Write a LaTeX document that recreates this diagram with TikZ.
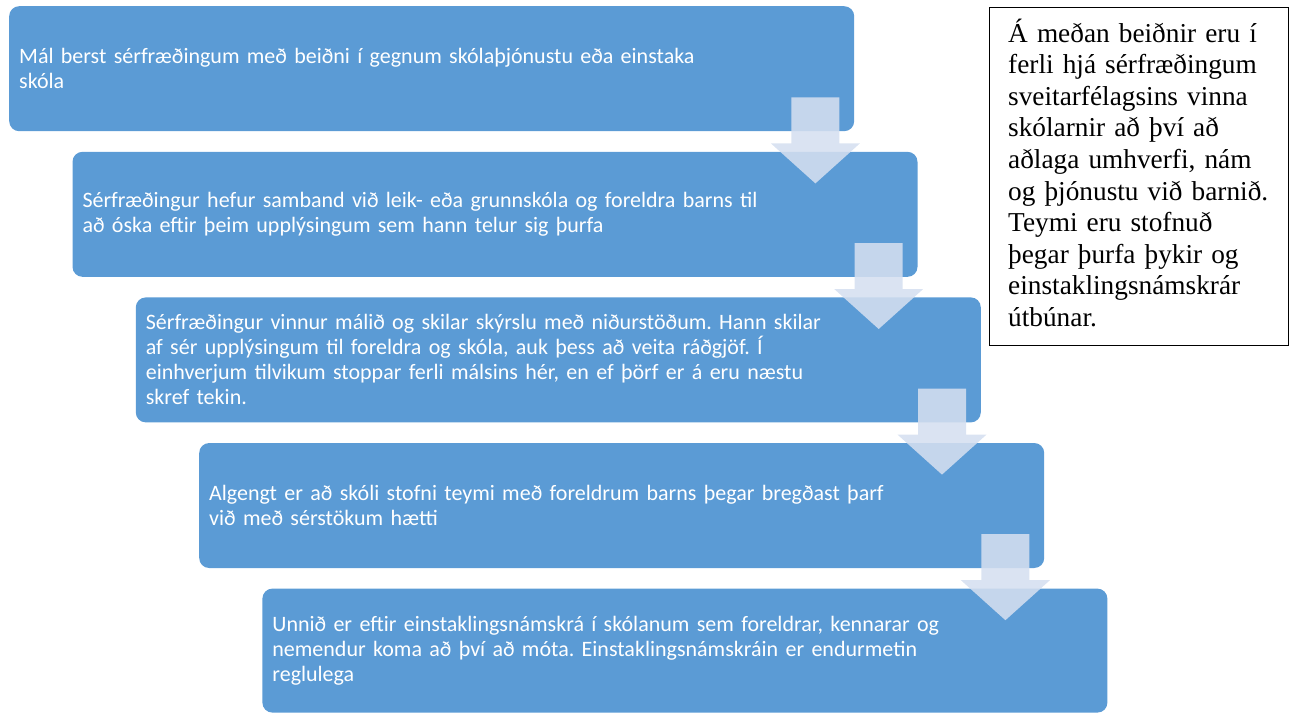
\documentclass[tikz,border=0pt]{standalone}
\usepackage{fontspec}
\setmainfont{Carlito}
\newfontfamily\serifnote{Liberation Serif}
\usetikzlibrary{calc}
\frenchspacing
\definecolor{boxblue}{RGB}{91,155,213}
\definecolor{arrowfill}{RGB}{213,223,240}
\tikzset{
  stepbox/.style={fill=boxblue, rounded corners=10pt, minimum width=845pt, minimum height=125pt,
    text width=825pt, inner xsep=10pt, inner ysep=0pt, align=left, anchor=north west,
    text=white, font=\fontsize{22pt}{25pt}\selectfont},
  downarrow/.style={fill=arrowfill, fill opacity=0.87, draw=none},
  noteframe/.style={draw=black, line width=1.2pt, anchor=north west, minimum width=299pt, minimum height=338pt,
    inner sep=0pt},
  notetext/.style={anchor=north west, inner sep=0pt, text width=280pt, align=left,
    font=\serifnote\fontsize{27.3pt}{31.6pt}\selectfont}
}
\begin{document}
\begin{tikzpicture}[x=1pt,y=-1pt]
\useasboundingbox (0,0) rectangle (1294,713);
\node[stepbox] (b1) at (9,6) {Mál berst sérfræðingum með beiðni í gegnum skólaþjónustu eða einstaka\\skóla};
\node[stepbox] (b2) at (72.3,151.6) {Sérfræðingur hefur samband við leik- eða grunnskóla og foreldra barns til\\að óska eftir þeim upplýsingum sem hann telur sig þurfa};
\node[stepbox] (b3) at (135.6,297.2) {Sérfræðingur vinnur málið og skilar skýrslu með niðurstöðum. Hann skilar\\af sér upplýsingum til foreldra og skóla, auk þess að veita ráðgjöf. Í\\einhverjum tilvikum stoppar ferli málsins hér, en ef þörf er á eru næstu\\skref tekin.};
\node[stepbox] (b4) at (199,442.8) {Algengt er að skóli stofni teymi með foreldrum barns þegar bregðast þarf\\við með sérstökum hætti};
\node[stepbox, minimum height=124pt] (b5) at (262.2,588.4) {Unnið er eftir einstaklingsnámskrá í skólanum sem foreldrar, kennarar og\\nemendur koma að því að móta. Einstaklingsnámskráin er endurmetin\\reglulega};
\foreach \i in {1,2,3,4}{
  \fill[downarrow] ($(b\i.south east)+(-63,-34)$) -- ($(b\i.south east)+(-15,-34)$)
    -- ($(b\i.south east)+(-15,12)$) -- ($(b\i.south east)+(5.5,12)$)
    -- ($(b\i.south east)+(-39,52)$) -- ($(b\i.south east)+(-83.5,12)$)
    -- ($(b\i.south east)+(-63,12)$) -- cycle;
}
\node[noteframe] (note) at (989,7) {};
\node[notetext] (notetxt) at ($(note.north west)+(19,11.5)$) {Á meðan beiðnir eru í\\ferli hjá sérfræðingum\\sveitarfélagsins vinna\\skólarnir að því að\\aðlaga umhverfi, nám\\og þjónustu við barnið.\\Teymi eru stofnuð\\þegar þurfa þykir og\\einstaklingsnámskrár\\útbúnar.};
\end{tikzpicture}
\end{document}
